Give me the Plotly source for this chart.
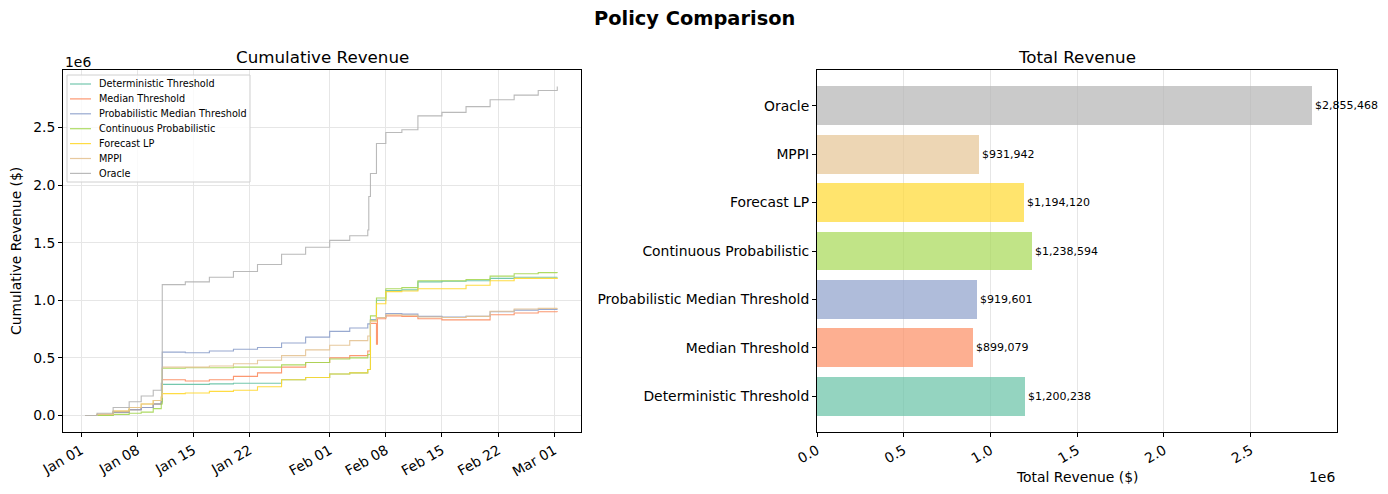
import pandas as pd
import plotly.graph_objects as go

# ---------------- data ----------------
timestamps = [
    "2025-01-01 12:00", "2025-01-03 00:00", "2025-01-05 00:00", "2025-01-07 00:00",
    "2025-01-08 12:00", "2025-01-10 00:00", "2025-01-11 00:00", "2025-01-11 03:00",
    "2025-01-14 00:00", "2025-01-17 00:00", "2025-01-20 00:00", "2025-01-23 00:00",
    "2025-01-26 00:00", "2025-01-29 00:00", "2025-02-01 00:00", "2025-02-03 12:00",
    "2025-02-05 18:00", "2025-02-05 21:00", "2025-02-06 02:00", "2025-02-06 20:00",
    "2025-02-06 23:00", "2025-02-08 00:00", "2025-02-10 00:00", "2025-02-12 00:00",
    "2025-02-15 00:00", "2025-02-18 00:00", "2025-02-21 00:00", "2025-02-24 00:00",
    "2025-02-27 00:00", "2025-03-01 09:00",
]

deterministic_threshold = [
    0, 5000, 30000, 50000, 70000, 100000, 120000, 270000,
    270000, 275000, 280000, 280000, 310000, 330000, 360000, 370000,
    400000, 400000, 830000, 1000000, 1000000, 1085000, 1090000, 1160000,
    1165000, 1170000, 1190000, 1200000, 1200000, 1200238,
]
median_threshold = [
    0, 5000, 30000, 50000, 70000, 100000, 120000, 310000,
    300000, 310000, 340000, 370000, 420000, 460000, 500000, 520000,
    560000, 560000, 800000, 620000, 840000, 865000, 860000, 840000,
    830000, 830000, 875000, 890000, 900000, 899079,
]
prob_median_threshold = [
    0, 5000, 30000, 50000, 70000, 100000, 120000, 550000,
    545000, 560000, 575000, 590000, 630000, 680000, 730000, 760000,
    795000, 795000, 830000, 850000, 850000, 885000, 880000, 860000,
    855000, 860000, 900000, 915000, 920000, 919601,
]
continuous_probabilistic = [
    0, 0, 10000, 20000, 30000, 60000, 100000, 410000,
    415000, 415000, 420000, 420000, 440000, 460000, 490000, 500000,
    530000, 530000, 865000, 1020000, 1020000, 1100000, 1110000, 1170000,
    1170000, 1180000, 1210000, 1230000, 1240000, 1238594,
]
forecast_lp = [
    0, 10000, 40000, 70000, 100000, 130000, 160000, 190000,
    195000, 210000, 220000, 250000, 310000, 330000, 360000, 370000,
    400000, 400000, 820000, 970000, 970000, 1075000, 1080000, 1100000,
    1100000, 1130000, 1170000, 1190000, 1190000, 1194120,
]
mppi = [
    0, 10000, 40000, 70000, 100000, 130000, 160000, 420000,
    420000, 430000, 450000, 480000, 520000, 570000, 610000, 650000,
    690000, 690000, 820000, 850000, 850000, 875000, 870000, 855000,
    850000, 860000, 905000, 925000, 930000, 931942,
]
oracle = [
    0, 20000, 70000, 120000, 170000, 220000, 280000, 1136000,
    1160000, 1200000, 1250000, 1310000, 1400000, 1460000, 1520000, 1560000,
    1610000, 1900000, 2100000, 2360000, 2360000, 2456000, 2480000, 2600000,
    2630000, 2680000, 2740000, 2780000, 2820000, 2855468,
]

policy_names = [
    "Deterministic Threshold", "Median Threshold", "Probabilistic Median Threshold",
    "Continuous Probabilistic", "Forecast LP", "MPPI", "Oracle",
]
total_revenue = [1200238, 899079, 919601, 1238594, 1194120, 931942, 2855468]

date_tick_values = ["2025-01-01", "2025-01-08", "2025-01-15", "2025-01-22", "2025-02-01",
                    "2025-02-08", "2025-02-15", "2025-02-22", "2025-03-01"]
date_tick_labels = ["Jan 01", "Jan 08", "Jan 15", "Jan 22", "Feb 01",
                    "Feb 08", "Feb 15", "Feb 22", "Mar 01"]
revenue_tick_values = [0, 500000, 1000000, 1500000, 2000000, 2500000]
revenue_tick_labels = ["0.0", "0.5", "1.0", "1.5", "2.0", "2.5"]

# ---------------- styling ----------------
set2 = ["#66c2a5", "#fc8d62", "#8da0cb", "#a6d854", "#ffd92f", "#e5c494", "#b3b3b3"]
bar_colors = ["rgba(102,194,165,0.7)", "rgba(252,141,98,0.7)", "rgba(141,160,203,0.7)",
              "rgba(166,216,84,0.7)", "rgba(255,217,47,0.7)", "rgba(229,196,148,0.7)",
              "rgba(179,179,179,0.7)"]
FONT = "DejaVu Sans"
PAGE_MARGIN = 8          # default body margin of the html page
W, H = 1388 - PAGE_MARGIN, 494 - PAGE_MARGIN
L1, R1 = 63, 581
L2, R2 = 817, 1337
TOP, BOT = 70, 432


def px(x):
    return (x - PAGE_MARGIN) / W


def py(y):
    return 1 - (y - PAGE_MARGIN) / H


times = pd.to_datetime(timestamps)
series = [deterministic_threshold, median_threshold, prob_median_threshold,
          continuous_probabilistic, forecast_lp, mppi, oracle]

fig = go.Figure()
for name, vals, col in zip(policy_names, series, set2):
    fig.add_trace(go.Scatter(
        x=times, y=vals, mode="lines", name=name, line=dict(color=col, width=1.1, shape="hv"),
        opacity=0.9, xaxis="x", yaxis="y", showlegend=False,
    ))

fig.add_trace(go.Bar(
    x=total_revenue, y=list(range(len(policy_names))), orientation="h",
    marker=dict(color=bar_colors, line=dict(width=0)), width=0.8,
    text=[f"${v:,.0f}" for v in total_revenue], textposition="outside",
    textfont=dict(size=11, color="black", family=FONT), constraintext="none",
    cliponaxis=False, showlegend=False, xaxis="x2", yaxis="y2",
))

axis_common = dict(
    showline=True, linecolor="black", linewidth=1, mirror=True,
    ticks="outside", ticklen=4, tickwidth=1, tickcolor="black",
    tickfont=dict(size=13.9, color="black", family=FONT),
    zeroline=False, gridcolor="#e6e6e6", gridwidth=1, automargin=False,
)

fig.update_layout(
    width=W, height=H, margin=dict(l=0, r=0, t=0, b=0),
    plot_bgcolor="white", paper_bgcolor="white",
    font=dict(family=FONT, color="black"),
    showlegend=False,
    xaxis=dict(domain=[px(L1), px(R1)], anchor="y", type="date",
               range=["2024-12-29 18:00", "2025-03-04 08:00"],
               tickvals=date_tick_values, ticktext=date_tick_labels, tickangle=-30,
               showgrid=True, **axis_common),
    yaxis=dict(domain=[py(BOT), py(TOP)], anchor="x", range=[-142800, 2998000],
               tickvals=revenue_tick_values, ticktext=revenue_tick_labels,
               showgrid=True, **axis_common),
    xaxis2=dict(domain=[px(L2), px(R2)], anchor="y2", range=[0, 2998000],
                tickvals=revenue_tick_values, ticktext=revenue_tick_labels, tickangle=-30,
                showgrid=True, **axis_common),
    yaxis2=dict(domain=[py(BOT), py(TOP)], anchor="x2", range=[-0.74, 6.74],
                tickvals=list(range(len(policy_names))), ticktext=policy_names,
                showgrid=False, **axis_common),
    bargap=0,
)

annotations = [
    dict(text="<b>Policy Comparison</b>", x=px(694), y=py(18), font=dict(size=19.4)),
    dict(text="Cumulative Revenue", x=px((L1 + R1) / 2), y=py(57), font=dict(size=16.7)),
    dict(text="Total Revenue", x=px((L2 + R2) / 2), y=py(57), font=dict(size=16.7)),
    dict(text="1e6", x=px(L1), y=py(62), xanchor="left", font=dict(size=13.9)),
    dict(text="1e6", x=px(R2), y=py(477), xanchor="right", font=dict(size=13.9)),
    dict(text="Total Revenue ($)", x=px((L2 + R2) / 2), y=py(477), font=dict(size=13.9)),
    dict(text="Cumulative Revenue ($)", x=px(16), y=py((TOP + BOT) / 2), textangle=-90,
         font=dict(size=13.9)),
]

# legend box (drawn in the style of the reference's compact legend)
shapes = [dict(type="rect", xref="paper", yref="paper",
               x0=px(67), x1=px(250), y0=py(182), y1=py(75),
               line=dict(color="#d0d0d0", width=1), fillcolor="rgba(255,255,255,0.8)",
               layer="above")]
LEG_TOP, LEG_STEP = 84, 14.9
for i, (name, col) in enumerate(zip(policy_names, set2)):
    yy = LEG_TOP + i * LEG_STEP
    shapes.append(dict(type="line", xref="paper", yref="paper",
                       x0=px(70), x1=px(91), y0=py(yy), y1=py(yy),
                       line=dict(color=col, width=1.2), opacity=0.9, layer="above"))
    annotations.append(dict(text=name, x=px(97), y=py(yy), xanchor="left",
                            font=dict(size=9.7)))

for a in annotations:
    a.setdefault("xanchor", "center")
    a.update(xref="paper", yref="paper", yanchor="middle", showarrow=False)
    a["font"].update(family=FONT, color="black")
fig.update_layout(annotations=annotations, shapes=shapes)

fig.write_html("out.html")
